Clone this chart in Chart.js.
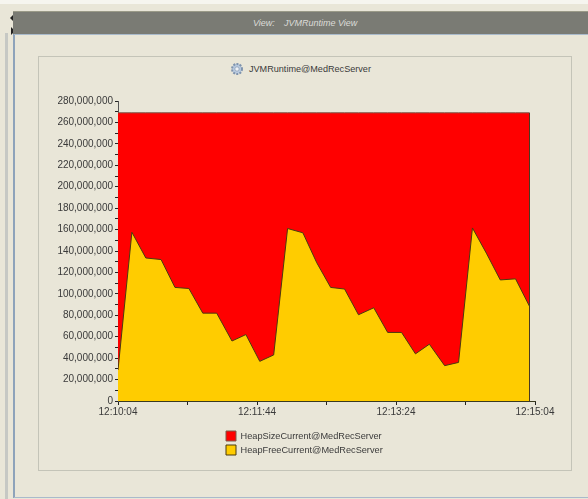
<!DOCTYPE html>
<html>
<head>
<meta charset="utf-8">
<script src="https://cdn.jsdelivr.net/npm/chart.js@4"></script>
<style>
html,body{margin:0;padding:0;background:#e9e6d8;overflow:hidden}
#wrap{position:relative;width:588px;height:499px;overflow:hidden;background:#e9e6d8;filter:blur(0.5px);font-family:"Liberation Sans",sans-serif;color:#333}
.abs{position:absolute}
#strip{left:0;top:0;width:588px;height:4px;background:#f6f5ef}
#rail{left:5px;top:33px;width:3px;height:466px;background:#c6c8c4}
#bar{left:13px;top:11px;width:575px;height:23px;background:#7a7b74;border-top:1px solid #9a9a88;box-sizing:border-box;color:#dcdcd8;font-size:9px;font-style:italic;line-height:22px;white-space:pre}
#bar span{position:absolute;left:240px;top:0}
#bar span+span{left:271px}
#frameL{left:13px;top:34px;width:2px;height:464px;background:#8ea3ba}
#frameB{left:14px;top:497px;width:574px;height:1px;background:#a9bacb}
#frameT{left:14px;top:34px;width:574px;height:1px;background:#a9bacb}
#panel{left:38px;top:56px;width:534px;height:415px;box-sizing:border-box;border:1px solid #c4c4b8}
#ttl{left:249px;top:63px;font-size:9.1px;line-height:13px;color:#3a3a3a;white-space:nowrap}
#gear{left:230px;top:62px;width:14px;height:14px}
.tri{width:0;height:0;border-top:4px solid transparent;border-bottom:4px solid transparent}
#tl{left:10px;top:14px;border-right:4px solid #222}
#tr{left:11px;top:27px;border-left:4px solid #222}
canvas{position:absolute;left:0;top:0}
</style>
</head>
<body>
<div id="wrap">
  <div class="abs" id="strip"></div>
  <div class="abs" id="rail"></div>
  <div class="abs tri" id="tl"></div>
  <div class="abs tri" id="tr"></div>
  <div class="abs" id="bar"><span>View:</span><span>JVMRuntime View</span></div>
  <div class="abs" id="frameL"></div>
  <div class="abs" id="frameT"></div>
  <div class="abs" id="frameB"></div>
  <div class="abs" id="panel"></div>
  <svg class="abs" id="gear" viewBox="0 0 14 14"><circle cx="7" cy="7" r="5" fill="#b9cbe0" stroke="#7f93ad" stroke-width="2" stroke-dasharray="2 1.2"/><circle cx="7" cy="7" r="2.2" fill="#eef2f6" stroke="#8a9cb4" stroke-width=".8"/></svg>
  <div class="abs" id="ttl">JVMRuntime@MedRecServer</div>
  <canvas id="c" width="588" height="499"></canvas>
</div>
<script>
const seconds = [0,10,20,31,41,51,61,71,82,92,102,112,122,133,143,153,163,173,184,194,204,214,224,235,245,255,265,275,286,296];
const heapSize = [269,269,269,269,269,269,269,269,269,269,269,269,269,269,269,269,269,269,269,269,269,269,269,269,269,269,269,269,269,269];
const heapFree = [29,157.5,133.5,132,106,105,82,82,56,62,37,43,161,157,129,106,104.5,80.5,87,64,64,44,53,33,36,161.5,138,113,114,88.5];
const timeTickLabels = {0:'12:10:04',100:'12:11:44',200:'12:13:24',300:'12:15:04'};
const seriesNames = ['HeapSizeCurrent@MedRecServer','HeapFreeCurrent@MedRecServer'];
const M = 1000000;
const toPoints = vals => vals.map((v,i)=>({x:seconds[i],y:v*M}));

const edgePlugin = {
  id:'edges',
  afterDatasetsDraw(chart){
    const {ctx,scales:{x,y}} = chart;
    const px = x.getPixelForValue(seconds[seconds.length-1]);
    ctx.save();
    ctx.strokeStyle='#4a3a20';ctx.lineWidth=1;
    ctx.beginPath();
    ctx.moveTo(Math.round(px)+.5,y.getPixelForValue(heapSize[heapSize.length-1]*M));
    ctx.lineTo(Math.round(px)+.5,y.getPixelForValue(0));
    ctx.stroke();
    ctx.restore();
  }
};
const legendPlace = {
  id:'legendPlace',
  afterLayout(chart){
    const l = chart.legend;
    l.left = 222; l.right = 420; l.top = 427; l.bottom = 462;
  }
};

Chart.defaults.font.family='"Liberation Sans",sans-serif';
Chart.defaults.font.size=10;
Chart.defaults.color='#3a3a3a';

new Chart(document.getElementById('c'),{
  type:'line',
  data:{datasets:[
    {label:seriesNames[0],data:toPoints(heapSize),order:2,backgroundColor:'#ff0000',borderColor:'#7a5a4a',borderWidth:1,fill:'origin',pointRadius:0,tension:0},
    {label:seriesNames[1],data:toPoints(heapFree),order:1,backgroundColor:'#ffcc00',borderColor:'#4a3a10',borderWidth:1,fill:'origin',pointRadius:0,tension:0}
  ]},
  plugins:[edgePlugin,legendPlace],
  options:{
    responsive:false,animation:false,
    layout:{padding:{left:0,top:101,right:53,bottom:50}},
    interaction:{mode:null},
    plugins:{
      tooltip:{enabled:false},
      title:{display:false},
      legend:{
        display:true,position:'bottom',align:'start',maxWidth:300,
        labels:{boxWidth:10,boxHeight:10,padding:4,color:'#3a3a3a',font:{size:9.2},sort:(a,b)=>a.datasetIndex-b.datasetIndex}
      }
    },
    scales:{
      x:{
        type:'linear',min:0,max:300,
        afterFit:s=>{s.height=24},
        border:{color:'#3a3a20',width:1},
        grid:{drawOnChartArea:false,tickLength:4,color:'#222',drawTicks:true},
        ticks:{stepSize:50,autoSkip:false,maxRotation:0,padding:1,color:'#3a3a3a',callback:v=>timeTickLabels[v]||''}
      },
      y:{
        min:0,max:280*M,
        afterFit:s=>{s.width=118},
        border:{color:'#555',width:1},
        grid:{drawOnChartArea:false,tickLength:3,color:'#222'},
        ticks:{stepSize:10*M,autoSkip:false,padding:2,color:'#3a3a3a',callback:v=>(v%(20*M)===0)?v.toLocaleString('en-US'):''}
      }
    }
  }
});
</script>
</body>
</html>
